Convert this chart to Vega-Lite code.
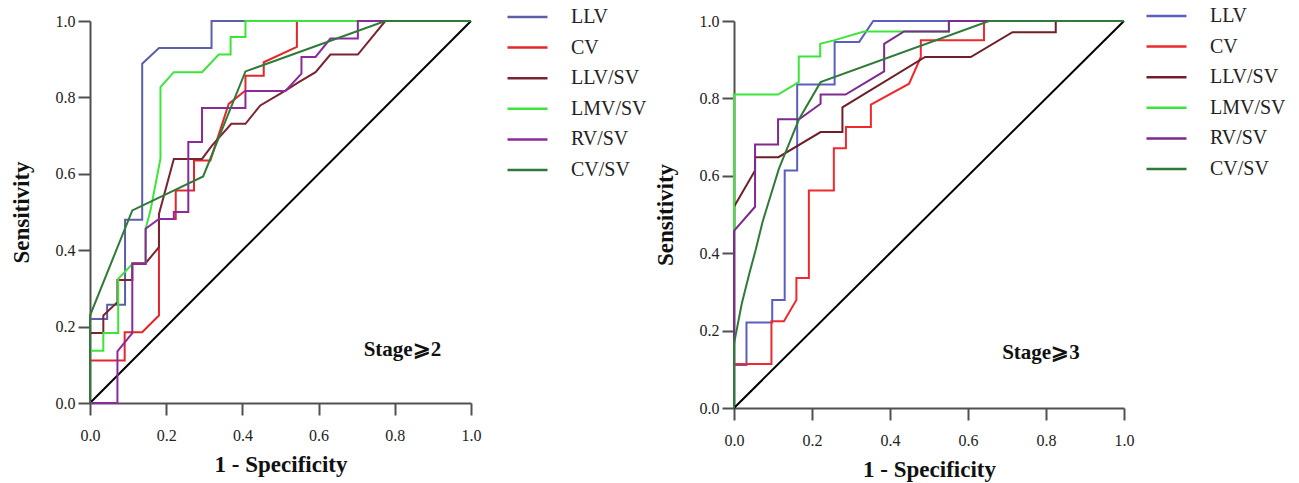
{
  "$schema": "https://vega.github.io/schema/vega-lite/v6.json",
  "background": "white",
  "padding": {"left": 10, "top": 6, "right": 5, "bottom": 5},
  "spacing": 7,
  "config": {
    "view": {"stroke": null},
    "font": "Liberation Serif",
    "axis": {
      "grid": false,
      "labelFlush": false,
      "domainColor": "#505050",
      "domainWidth": 2,
      "tickColor": "#505050",
      "tickWidth": 2,
      "tickSize": 12,
      "labelFont": "Liberation Serif",
      "labelFontSize": 16,
      "labelColor": "#222222",
      "titleFont": "Liberation Serif",
      "titleFontSize": 23,
      "titleFontWeight": "bold",
      "titleColor": "#111111"
    },
    "legend": {
      "orient": "none",
      "title": null,
      "symbolType": "stroke",
      "symbolSize": 1600,
      "symbolStrokeWidth": 2.5,
      "clipHeight": 20,
      "rowPadding": 10.6,
      "labelFont": "Liberation Serif",
      "labelFontSize": 20,
      "labelColor": "#222222",
      "labelOffset": 22,
      "padding": 0
    }
  },
  "datasets": {
    "roc2": [
      {"s":"LLV","i":0,"x":0,"y":0},{"s":"LLV","i":1,"x":0,"y":0.22},{"s":"LLV","i":2,"x":0.045,"y":0.22},{"s":"LLV","i":3,"x":0.045,"y":0.257},{"s":"LLV","i":4,"x":0.092,"y":0.257},{"s":"LLV","i":5,"x":0.092,"y":0.48},{"s":"LLV","i":6,"x":0.137,"y":0.48},{"s":"LLV","i":7,"x":0.137,"y":0.888},{"s":"LLV","i":8,"x":0.181,"y":0.929},{"s":"LLV","i":9,"x":0.319,"y":0.929},{"s":"LLV","i":10,"x":0.319,"y":1},{"s":"LLV","i":11,"x":1,"y":1},
      {"s":"CV","i":0,"x":0,"y":0},{"s":"CV","i":1,"x":0,"y":0.111},{"s":"CV","i":2,"x":0.091,"y":0.111},{"s":"CV","i":3,"x":0.091,"y":0.185},{"s":"CV","i":4,"x":0.137,"y":0.185},{"s":"CV","i":5,"x":0.181,"y":0.229},{"s":"CV","i":6,"x":0.181,"y":0.482},{"s":"CV","i":7,"x":0.225,"y":0.482},{"s":"CV","i":8,"x":0.225,"y":0.556},{"s":"CV","i":9,"x":0.273,"y":0.556},{"s":"CV","i":10,"x":0.273,"y":0.635},{"s":"CV","i":11,"x":0.316,"y":0.635},{"s":"CV","i":12,"x":0.364,"y":0.783},{"s":"CV","i":13,"x":0.408,"y":0.818},{"s":"CV","i":14,"x":0.408,"y":0.857},{"s":"CV","i":15,"x":0.456,"y":0.857},{"s":"CV","i":16,"x":0.456,"y":0.892},{"s":"CV","i":17,"x":0.543,"y":0.932},{"s":"CV","i":18,"x":0.543,"y":1},{"s":"CV","i":19,"x":1,"y":1},
      {"s":"LLV/SV","i":0,"x":0,"y":0},{"s":"LLV/SV","i":1,"x":0,"y":0.183},{"s":"LLV/SV","i":2,"x":0.035,"y":0.183},{"s":"LLV/SV","i":3,"x":0.035,"y":0.229},{"s":"LLV/SV","i":4,"x":0.072,"y":0.264},{"s":"LLV/SV","i":5,"x":0.072,"y":0.322},{"s":"LLV/SV","i":6,"x":0.111,"y":0.322},{"s":"LLV/SV","i":7,"x":0.111,"y":0.366},{"s":"LLV/SV","i":8,"x":0.146,"y":0.366},{"s":"LLV/SV","i":9,"x":0.181,"y":0.408},{"s":"LLV/SV","i":10,"x":0.181,"y":0.495},{"s":"LLV/SV","i":11,"x":0.22,"y":0.639},{"s":"LLV/SV","i":12,"x":0.294,"y":0.639},{"s":"LLV/SV","i":13,"x":0.32,"y":0.674},{"s":"LLV/SV","i":14,"x":0.371,"y":0.731},{"s":"LLV/SV","i":15,"x":0.408,"y":0.731},{"s":"LLV/SV","i":16,"x":0.447,"y":0.779},{"s":"LLV/SV","i":17,"x":0.513,"y":0.818},{"s":"LLV/SV","i":18,"x":0.548,"y":0.84},{"s":"LLV/SV","i":19,"x":0.592,"y":0.866},{"s":"LLV/SV","i":20,"x":0.631,"y":0.912},{"s":"LLV/SV","i":21,"x":0.703,"y":0.912},{"s":"LLV/SV","i":22,"x":0.775,"y":1},{"s":"LLV/SV","i":23,"x":1,"y":1},
      {"s":"LMV/SV","i":0,"x":0,"y":0},{"s":"LMV/SV","i":1,"x":0,"y":0.137},{"s":"LMV/SV","i":2,"x":0.035,"y":0.137},{"s":"LMV/SV","i":3,"x":0.035,"y":0.183},{"s":"LMV/SV","i":4,"x":0.074,"y":0.183},{"s":"LMV/SV","i":5,"x":0.074,"y":0.325},{"s":"LMV/SV","i":6,"x":0.111,"y":0.364},{"s":"LMV/SV","i":7,"x":0.146,"y":0.364},{"s":"LMV/SV","i":8,"x":0.146,"y":0.456},{"s":"LMV/SV","i":9,"x":0.159,"y":0.505},{"s":"LMV/SV","i":10,"x":0.185,"y":0.64},{"s":"LMV/SV","i":11,"x":0.185,"y":0.827},{"s":"LMV/SV","i":12,"x":0.22,"y":0.866},{"s":"LMV/SV","i":13,"x":0.294,"y":0.866},{"s":"LMV/SV","i":14,"x":0.338,"y":0.912},{"s":"LMV/SV","i":15,"x":0.369,"y":0.912},{"s":"LMV/SV","i":16,"x":0.369,"y":0.958},{"s":"LMV/SV","i":17,"x":0.408,"y":0.958},{"s":"LMV/SV","i":18,"x":0.408,"y":1},{"s":"LMV/SV","i":19,"x":1,"y":1},
      {"s":"RV/SV","i":0,"x":0,"y":0},{"s":"RV/SV","i":1,"x":0.072,"y":0},{"s":"RV/SV","i":2,"x":0.072,"y":0.135},{"s":"RV/SV","i":3,"x":0.111,"y":0.183},{"s":"RV/SV","i":4,"x":0.111,"y":0.364},{"s":"RV/SV","i":5,"x":0.146,"y":0.364},{"s":"RV/SV","i":6,"x":0.146,"y":0.456},{"s":"RV/SV","i":7,"x":0.181,"y":0.482},{"s":"RV/SV","i":8,"x":0.22,"y":0.482},{"s":"RV/SV","i":9,"x":0.22,"y":0.5},{"s":"RV/SV","i":10,"x":0.258,"y":0.5},{"s":"RV/SV","i":11,"x":0.258,"y":0.683},{"s":"RV/SV","i":12,"x":0.294,"y":0.683},{"s":"RV/SV","i":13,"x":0.294,"y":0.772},{"s":"RV/SV","i":14,"x":0.408,"y":0.772},{"s":"RV/SV","i":15,"x":0.408,"y":0.817},{"s":"RV/SV","i":16,"x":0.513,"y":0.817},{"s":"RV/SV","i":17,"x":0.555,"y":0.862},{"s":"RV/SV","i":18,"x":0.555,"y":0.906},{"s":"RV/SV","i":19,"x":0.592,"y":0.906},{"s":"RV/SV","i":20,"x":0.631,"y":0.954},{"s":"RV/SV","i":21,"x":0.703,"y":0.954},{"s":"RV/SV","i":22,"x":0.703,"y":1},{"s":"RV/SV","i":23,"x":1,"y":1},
      {"s":"CV/SV","i":0,"x":0,"y":0},{"s":"CV/SV","i":1,"x":0,"y":0.229},{"s":"CV/SV","i":2,"x":0.111,"y":0.504},{"s":"CV/SV","i":3,"x":0.297,"y":0.593},{"s":"CV/SV","i":4,"x":0.408,"y":0.868},{"s":"CV/SV","i":5,"x":0.775,"y":1},{"s":"CV/SV","i":6,"x":1,"y":1}
    ],
    "roc3": [
      {"s":"LLV","i":0,"x":0,"y":0},{"s":"LLV","i":1,"x":0,"y":0.111},{"s":"LLV","i":2,"x":0.032,"y":0.111},{"s":"LLV","i":3,"x":0.032,"y":0.221},{"s":"LLV","i":4,"x":0.098,"y":0.221},{"s":"LLV","i":5,"x":0.098,"y":0.279},{"s":"LLV","i":6,"x":0.13,"y":0.279},{"s":"LLV","i":7,"x":0.13,"y":0.614},{"s":"LLV","i":8,"x":0.162,"y":0.614},{"s":"LLV","i":9,"x":0.162,"y":0.836},{"s":"LLV","i":10,"x":0.258,"y":0.836},{"s":"LLV","i":11,"x":0.258,"y":0.946},{"s":"LLV","i":12,"x":0.321,"y":0.946},{"s":"LLV","i":13,"x":0.357,"y":1},{"s":"LLV","i":14,"x":1,"y":1},
      {"s":"CV","i":0,"x":0,"y":0},{"s":"CV","i":1,"x":0,"y":0.114},{"s":"CV","i":2,"x":0.096,"y":0.114},{"s":"CV","i":3,"x":0.096,"y":0.224},{"s":"CV","i":4,"x":0.128,"y":0.224},{"s":"CV","i":5,"x":0.16,"y":0.279},{"s":"CV","i":6,"x":0.16,"y":0.336},{"s":"CV","i":7,"x":0.192,"y":0.336},{"s":"CV","i":8,"x":0.192,"y":0.562},{"s":"CV","i":9,"x":0.256,"y":0.562},{"s":"CV","i":10,"x":0.256,"y":0.671},{"s":"CV","i":11,"x":0.287,"y":0.671},{"s":"CV","i":12,"x":0.287,"y":0.726},{"s":"CV","i":13,"x":0.351,"y":0.726},{"s":"CV","i":14,"x":0.351,"y":0.784},{"s":"CV","i":15,"x":0.449,"y":0.838},{"s":"CV","i":16,"x":0.479,"y":0.907},{"s":"CV","i":17,"x":0.479,"y":0.95},{"s":"CV","i":18,"x":0.641,"y":0.95},{"s":"CV","i":19,"x":0.641,"y":1},{"s":"CV","i":20,"x":1,"y":1},
      {"s":"LLV/SV","i":0,"x":0,"y":0},{"s":"LLV/SV","i":1,"x":0,"y":0.52},{"s":"LLV/SV","i":2,"x":0.054,"y":0.614},{"s":"LLV/SV","i":3,"x":0.054,"y":0.648},{"s":"LLV/SV","i":4,"x":0.114,"y":0.648},{"s":"LLV/SV","i":5,"x":0.222,"y":0.713},{"s":"LLV/SV","i":6,"x":0.278,"y":0.713},{"s":"LLV/SV","i":7,"x":0.278,"y":0.777},{"s":"LLV/SV","i":8,"x":0.49,"y":0.907},{"s":"LLV/SV","i":9,"x":0.607,"y":0.907},{"s":"LLV/SV","i":10,"x":0.714,"y":0.971},{"s":"LLV/SV","i":11,"x":0.825,"y":0.971},{"s":"LLV/SV","i":12,"x":0.825,"y":1},{"s":"LLV/SV","i":13,"x":1,"y":1},
      {"s":"LMV/SV","i":0,"x":0,"y":0},{"s":"LMV/SV","i":1,"x":0,"y":0.81},{"s":"LMV/SV","i":2,"x":0.113,"y":0.81},{"s":"LMV/SV","i":3,"x":0.166,"y":0.842},{"s":"LMV/SV","i":4,"x":0.166,"y":0.908},{"s":"LMV/SV","i":5,"x":0.221,"y":0.908},{"s":"LMV/SV","i":6,"x":0.221,"y":0.941},{"s":"LMV/SV","i":7,"x":0.256,"y":0.95},{"s":"LMV/SV","i":8,"x":0.333,"y":0.973},{"s":"LMV/SV","i":9,"x":0.551,"y":0.973},{"s":"LMV/SV","i":10,"x":0.551,"y":1},{"s":"LMV/SV","i":11,"x":1,"y":1},
      {"s":"RV/SV","i":0,"x":0,"y":0},{"s":"RV/SV","i":1,"x":0,"y":0.458},{"s":"RV/SV","i":2,"x":0.054,"y":0.52},{"s":"RV/SV","i":3,"x":0.054,"y":0.681},{"s":"RV/SV","i":4,"x":0.113,"y":0.681},{"s":"RV/SV","i":5,"x":0.113,"y":0.746},{"s":"RV/SV","i":6,"x":0.167,"y":0.746},{"s":"RV/SV","i":7,"x":0.222,"y":0.786},{"s":"RV/SV","i":8,"x":0.222,"y":0.81},{"s":"RV/SV","i":9,"x":0.286,"y":0.81},{"s":"RV/SV","i":10,"x":0.385,"y":0.87},{"s":"RV/SV","i":11,"x":0.385,"y":0.941},{"s":"RV/SV","i":12,"x":0.436,"y":0.973},{"s":"RV/SV","i":13,"x":0.551,"y":0.973},{"s":"RV/SV","i":14,"x":0.551,"y":1},{"s":"RV/SV","i":15,"x":1,"y":1},
      {"s":"CV/SV","i":0,"x":0,"y":0},{"s":"CV/SV","i":1,"x":0,"y":0.166},{"s":"CV/SV","i":2,"x":0.02,"y":0.27},{"s":"CV/SV","i":3,"x":0.04,"y":0.35},{"s":"CV/SV","i":4,"x":0.056,"y":0.41},{"s":"CV/SV","i":5,"x":0.073,"y":0.48},{"s":"CV/SV","i":6,"x":0.09,"y":0.536},{"s":"CV/SV","i":7,"x":0.115,"y":0.618},{"s":"CV/SV","i":8,"x":0.167,"y":0.747},{"s":"CV/SV","i":9,"x":0.222,"y":0.842},{"s":"CV/SV","i":10,"x":0.654,"y":1},{"s":"CV/SV","i":11,"x":1,"y":1}
    ],
    "diag": [{"x":0,"y":0},{"x":1,"y":1}]
  },
  "resolve": {"scale": {"color": "independent"}, "legend": {"color": "independent"}},
  "hconcat": [
    {
      "width": 381,
      "height": 382,
      "layer": [
        {
          "data": {"name": "diag"},
          "mark": {"type": "line", "color": "#000000", "strokeWidth": 2},
          "encoding": {
            "x": {"field": "x", "type": "quantitative", "scale": {"domain": [0, 1]}, "axis": {"values": [0, 0.2, 0.4, 0.6, 0.8, 1], "format": ".1f", "title": "1 - Specificity", "labelFont": "Liberation Serif", "labelPadding": 12, "titlePadding": 10}},
            "y": {"field": "y", "type": "quantitative", "scale": {"domain": [0, 1]}, "axis": {"values": [0, 0.2, 0.4, 0.6, 0.8, 1], "format": ".1f", "title": "Sensitivity", "labelFont": "Liberation Serif", "labelPadding": 3, "titlePadding": 22}}
          }
        },
        {
          "data": {"name": "roc2"},
          "mark": {"type": "line", "strokeWidth": 2, "interpolate": "linear"},
          "encoding": {
            "x": {"field": "x", "type": "quantitative"},
            "y": {"field": "y", "type": "quantitative"},
            "order": {"field": "i", "type": "quantitative"},
            "color": {
              "field": "s", "type": "nominal",
              "scale": {"domain": ["LLV", "CV", "LLV/SV", "LMV/SV", "RV/SV", "CV/SV"], "range": ["#5C5FA6", "#E3262B", "#7A2431", "#3DE43A", "#8B2A9C", "#2F7A38"]},
              "legend": {"legendX": 416, "legendY": -14}
            }
          }
        },
        {
          "data": {"values": [{"label": "Stage⩾2", "x": 0.82, "y": 0.14}]},
          "mark": {"type": "text", "font": "Liberation Serif", "fontSize": 21, "fontWeight": "bold", "color": "#111111"},
          "encoding": {
            "x": {"field": "x", "type": "quantitative"},
            "y": {"field": "y", "type": "quantitative"},
            "text": {"field": "label"}
          }
        }
      ]
    },
    {
      "width": 390,
      "height": 387,
      "layer": [
        {
          "data": {"name": "diag"},
          "mark": {"type": "line", "color": "#000000", "strokeWidth": 2},
          "encoding": {
            "x": {"field": "x", "type": "quantitative", "scale": {"domain": [0, 1]}, "axis": {"values": [0, 0.2, 0.4, 0.6, 0.8, 1], "format": ".1f", "title": "1 - Specificity", "labelFont": "Liberation Serif", "labelPadding": 12, "titlePadding": 10}},
            "y": {"field": "y", "type": "quantitative", "scale": {"domain": [0, 1]}, "axis": {"values": [0, 0.2, 0.4, 0.6, 0.8, 1], "format": ".1f", "title": "Sensitivity", "labelFont": "Liberation Serif", "labelPadding": 3, "titlePadding": 22}}
          }
        },
        {
          "data": {"name": "roc3"},
          "mark": {"type": "line", "strokeWidth": 2, "interpolate": "linear"},
          "encoding": {
            "x": {"field": "x", "type": "quantitative"},
            "y": {"field": "y", "type": "quantitative"},
            "order": {"field": "i", "type": "quantitative"},
            "color": {
              "field": "s", "type": "nominal",
              "scale": {"domain": ["LLV", "CV", "LLV/SV", "LMV/SV", "RV/SV", "CV/SV"], "range": ["#5A5FBE", "#EE2A2E", "#6E1F2A", "#3DE43A", "#7E2A8E", "#2F7A38"]},
              "legend": {"legendX": 411, "legendY": -15}
            }
          }
        },
        {
          "data": {"values": [{"label": "Stage⩾3", "x": 0.787, "y": 0.143}]},
          "mark": {"type": "text", "font": "Liberation Serif", "fontSize": 21, "fontWeight": "bold", "color": "#111111"},
          "encoding": {
            "x": {"field": "x", "type": "quantitative"},
            "y": {"field": "y", "type": "quantitative"},
            "text": {"field": "label"}
          }
        }
      ]
    }
  ]
}
